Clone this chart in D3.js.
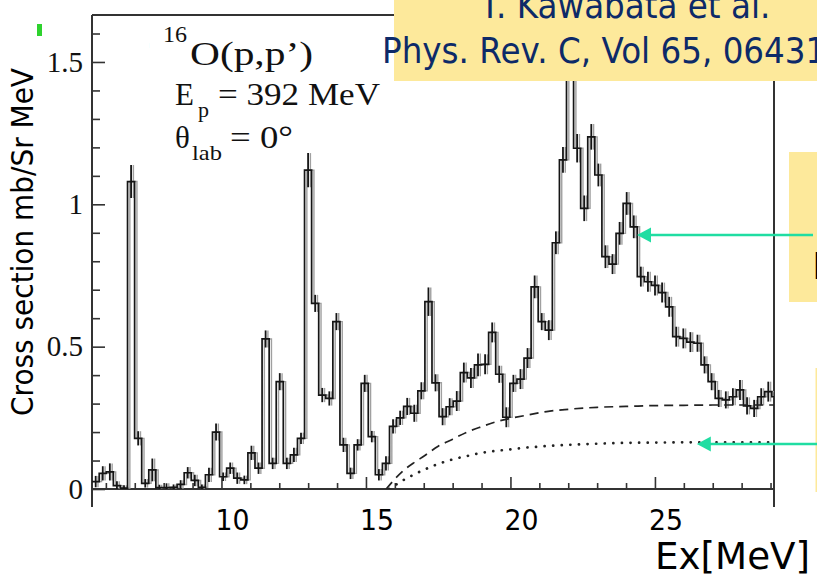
<!DOCTYPE html>
<html><head><meta charset="utf-8">
<script src="https://cdn.jsdelivr.net/npm/d3@7"></script>
<style>html,body{margin:0;padding:0;background:#fff;} svg{display:block;}</style>
</head><body>
<svg id="chart" width="817" height="584"></svg>
<script>
// 16O(p,p') excitation-energy spectrum, Ep = 392 MeV, theta_lab = 0 deg
const binStart = 5.525;   // MeV, lower edge of the first bin
const binWidth = 0.245;   // MeV
const crossSection = [
  0.026, 0.055, 0.060, 0.012, 0.003, 1.080, 0.178, 0.020, 0.067, 0.005,
  0.005, 0.006, 0.016, 0.057, 0.030, 0.006, 0.050, 0.200, 0.043, 0.073,
  0.038, 0.032, 0.127, 0.073, 0.527, 0.090, 0.377, 0.090, 0.120, 0.178,
  1.120, 0.652, 0.330, 0.318, 0.588, 0.155, 0.055, 0.155, 0.371, 0.184,
  0.050, 0.090, 0.220, 0.250, 0.290, 0.266, 0.345, 0.658, 0.373, 0.254,
  0.289, 0.309, 0.409, 0.390, 0.436, 0.438, 0.550, 0.403, 0.252, 0.371,
  0.386, 0.460, 0.710, 0.588, 0.558, 0.865, 1.156, 1.520, 1.197, 0.986,
  1.237, 1.103, 0.816, 0.790, 0.898, 1.003, 0.921, 0.746, 0.728, 0.715,
  0.690, 0.640, 0.535, 0.529, 0.516, 0.512, 0.436, 0.377, 0.318, 0.313,
  0.324, 0.348, 0.292, 0.283, 0.324, 0.342, 0.324
];
const crossSectionErr = [
  0.020, 0.025, 0.030, 0.015, 0.010, 0.058, 0.025, 0.015, 0.040, 0.010,
  0.015, 0.010, 0.015, 0.020, 0.020, 0.010, 0.025, 0.030, 0.015, 0.020,
  0.020, 0.015, 0.025, 0.020, 0.030, 0.020, 0.030, 0.020, 0.025, 0.020,
  0.060, 0.030, 0.025, 0.025, 0.030, 0.025, 0.020, 0.020, 0.030, 0.020,
  0.020, 0.025, 0.025, 0.025, 0.030, 0.030, 0.030, 0.050, 0.030, 0.030,
  0.030, 0.035, 0.035, 0.035, 0.040, 0.035, 0.035, 0.030, 0.035, 0.030,
  0.035, 0.035, 0.040, 0.030, 0.035, 0.040, 0.045, 0.060, 0.050, 0.045,
  0.045, 0.040, 0.040, 0.035, 0.040, 0.040, 0.040, 0.035, 0.035, 0.035,
  0.035, 0.035, 0.035, 0.035, 0.035, 0.030, 0.030, 0.030, 0.030, 0.030,
  0.030, 0.035, 0.030, 0.030, 0.030, 0.035, 0.030
];
// second (overlapping) measurement, drawn in grey, shifted in Ex
const greyShift = 0.08;   // MeV

// continuum estimates (Ex [MeV], cross section)
const dashedCurve = [
  [15.70, 0.000], [16.00, 0.035], [16.30, 0.065], [16.70, 0.095], [17.00, 0.115],
  [17.50, 0.150], [18.00, 0.175], [18.50, 0.200], [19.00, 0.219], [19.50, 0.236],
  [20.00, 0.248], [20.60, 0.260], [21.25, 0.272], [22.00, 0.280], [23.00, 0.287],
  [24.00, 0.290], [25.00, 0.293], [26.00, 0.294], [27.00, 0.295], [28.00, 0.295],
  [29.12, 0.295]
];
const dottedCurve = [
  [15.80, 0.000], [16.40, 0.037], [17.00, 0.067], [17.50, 0.088], [18.00, 0.104],
  [18.50, 0.116], [19.00, 0.127], [19.50, 0.134], [20.00, 0.139], [20.50, 0.145],
  [21.00, 0.149], [22.00, 0.155], [23.00, 0.159], [24.00, 0.162], [25.00, 0.163],
  [26.00, 0.164], [27.00, 0.164], [28.00, 0.164], [29.12, 0.164]
];

const yMajorTicks = [0, 0.5, 1, 1.5];
const yTickLabels = ["0", "0.5", "1", "1.5"];
const xMajorTicks = [10, 15, 20, 25];
const xTickLabels = ["10", "15", "20", "25"];

// arrow tips, in data coordinates (Ex, cross section)
const arrowTips = [[24.38, 0.892], [26.45, 0.158]];

const svg = d3.select("#chart");
const W = 817, H = 584;
const plot = {left: 92, right: 774, top: 15, bottom: 489, frameBottom: 507};

const x = d3.scaleLinear().domain([5.52, 29.12]).range([plot.left, plot.right]);
const y = d3.scaleLinear().domain([0, 1.665]).range([plot.bottom, plot.top]);

svg.append("rect").attr("width", W).attr("height", H).attr("fill", "#fff");

const defs = svg.append("defs");
defs.append("clipPath").attr("id", "plotClip")
  .append("rect").attr("x", plot.left).attr("y", plot.top)
  .attr("width", plot.right - plot.left).attr("height", plot.bottom - plot.top);

// ---- axes ----
const frameColor = "#333";
const xMinor = d3.range(6, 30).filter(v => v % 5 !== 0 && x(v) < plot.right);
const yMinor = d3.range(1, 17).map(i => i / 10).filter(v => Math.abs(v * 2 - Math.round(v * 2)) > 1e-6);

const xAxisMajor = d3.axisBottom(x).tickValues(xMajorTicks).tickSizeInner(-12).tickSizeOuter(0).tickFormat("");
const xAxisMinor = d3.axisBottom(x).tickValues(xMinor).tickSizeInner(-6).tickSizeOuter(0).tickFormat("");
const yAxisMajor = d3.axisLeft(y).tickValues(yMajorTicks).tickSizeInner(-13).tickSizeOuter(0)
  .tickPadding(9).tickFormat((d, i) => yTickLabels[i]);
const yAxisMinor = d3.axisLeft(y).tickValues(yMinor).tickSizeInner(-8).tickSizeOuter(0).tickFormat("");

function styleAxis(g) {
  g.select(".domain").remove();
  g.selectAll(".tick line").attr("stroke", frameColor).attr("stroke-width", 1.6);
}
svg.append("g").attr("transform", `translate(0,${plot.bottom})`).call(xAxisMajor).call(styleAxis);
svg.append("g").attr("transform", `translate(0,${plot.bottom})`).call(xAxisMinor).call(styleAxis);
svg.append("g").attr("transform", `translate(${plot.left},0)`).call(yAxisMinor).call(styleAxis);
const yG = svg.append("g").attr("transform", `translate(${plot.left},0)`).call(yAxisMajor).call(styleAxis);
yG.selectAll(".tick text")
  .attr("font-family", "'Liberation Serif', 'Times New Roman', serif")
  .attr("font-size", 29).attr("fill", "#111");

// frame
const frame = svg.append("g").attr("stroke", frameColor).attr("stroke-width", 2).attr("fill", "none");
frame.append("line").attr("x1", plot.left).attr("x2", plot.left).attr("y1", plot.top).attr("y2", plot.frameBottom);
frame.append("line").attr("x1", plot.right).attr("x2", plot.right).attr("y1", plot.top).attr("y2", plot.frameBottom);
frame.append("line").attr("x1", plot.left).attr("x2", plot.right).attr("y1", plot.top).attr("y2", plot.top);
frame.append("line").attr("x1", plot.left).attr("x2", plot.right).attr("y1", plot.bottom).attr("y2", plot.bottom);

// ---- data ----
const dataG = svg.append("g").attr("clip-path", "url(#plotClip)");

function histPoints(shift) {
  const pts = crossSection.map((v, i) => [binStart + i * binWidth + shift, v]);
  pts.push([binStart + crossSection.length * binWidth + shift, crossSection[crossSection.length - 1]]);
  return pts;
}
const step = d3.line().x(d => x(d[0])).y(d => y(d[1])).curve(d3.curveStepAfter);

function drawHist(shift, color, width, barWidth) {
  dataG.append("path").attr("d", step(histPoints(shift)))
    .attr("fill", "none").attr("stroke", color).attr("stroke-width", width);
  dataG.append("g").selectAll("line").data(crossSection).join("line")
    .attr("x1", (d, i) => x(binStart + (i + 0.5) * binWidth + shift))
    .attr("x2", (d, i) => x(binStart + (i + 0.5) * binWidth + shift))
    .attr("y1", (d, i) => y(d - crossSectionErr[i]))
    .attr("y2", (d, i) => y(d + crossSectionErr[i]))
    .attr("stroke", color).attr("stroke-width", barWidth);
}
drawHist(greyShift, "#a0a0a0", 1.4, 1.4);
drawHist(0, "#151515", 1.7, 1.8);

const curveLine = d3.line().x(d => x(d[0])).y(d => y(d[1])).curve(d3.curveMonotoneX);
dataG.append("path").attr("d", curveLine(dashedCurve))
  .attr("fill", "none").attr("stroke", "#222").attr("stroke-width", 1.7)
  .attr("stroke-dasharray", "9,6");
dataG.append("path").attr("d", curveLine(dottedCurve))
  .attr("fill", "none").attr("stroke", "#222").attr("stroke-width", 2.7)
  .attr("stroke-linecap", "round").attr("stroke-dasharray", "0.1,8.5");

// ---- reaction labels (figure font) ----
const serif = "'Liberation Serif', 'Times New Roman', serif";
const lab = svg.append("g").attr("font-family", serif).attr("fill", "#111");
lab.append("text").attr("x", 163).attr("y", 42).attr("font-size", 23)
  .attr("textLength", 24).attr("lengthAdjust", "spacingAndGlyphs").text("16");
lab.append("text").attr("x", 190).attr("y", 65).attr("font-size", 33)
  .attr("textLength", 123).attr("lengthAdjust", "spacingAndGlyphs").text("O(p,p’)");
lab.append("text").attr("x", 175).attr("y", 105).attr("font-size", 31).text("E");
lab.append("text").attr("x", 198).attr("y", 117).attr("font-size", 22).text("p");
lab.append("text").attr("x", 218).attr("y", 105).attr("font-size", 31)
  .attr("textLength", 162).attr("lengthAdjust", "spacingAndGlyphs").text("= 392 MeV");
lab.append("text").attr("x", 175).attr("y", 148).attr("font-size", 31).text("θ");
lab.append("text").attr("x", 192).attr("y", 160).attr("font-size", 22)
  .attr("textLength", 30).attr("lengthAdjust", "spacingAndGlyphs").text("lab");
lab.append("text").attr("x", 230).attr("y", 148).attr("font-size", 31)
  .attr("textLength", 63).attr("lengthAdjust", "spacingAndGlyphs").text("= 0°");
// panel tag, mostly hidden behind the slide edge
const tagClip = defs.append("clipPath").attr("id", "tagClip");
tagClip.append("rect").attr("x", 149).attr("y", 20).attr("width", 10).attr("height", 45);
lab.append("text").attr("x", 141).attr("y", 52).attr("font-size", 26)
  .attr("clip-path", "url(#tagClip)").text(")");

// ---- slide annotations ----
const sans = "'DejaVu Sans', Verdana, sans-serif";
svg.append("text")
  .attr("transform", `translate(33,${(68 + 416) / 2}) rotate(-90)`)
  .attr("text-anchor", "middle").attr("font-family", sans).attr("font-size", 30)
  .attr("textLength", 348).attr("lengthAdjust", "spacingAndGlyphs")
  .attr("fill", "#000").text("Cross section mb/Sr MeV");

svg.append("g").selectAll("text").data(xMajorTicks).join("text")
  .attr("x", d => x(d) + 11).attr("y", 530)
  .attr("text-anchor", "middle").attr("font-family", sans).attr("font-size", 29)
  .attr("textLength", 34).attr("lengthAdjust", "spacingAndGlyphs")
  .attr("fill", "#000").text((d, i) => xTickLabels[i]);

svg.append("text").attr("x", 655).attr("y", 569)
  .attr("font-family", sans).attr("font-size", 37)
  .attr("textLength", 155).attr("lengthAdjust", "spacingAndGlyphs")
  .attr("fill", "#000").text("Ex[MeV]");

// green marker
svg.append("rect").attr("x", 37).attr("y", 24).attr("width", 5).attr("height", 12).attr("fill", "#2ed22e");

// reference box
const yellow = "#fde99b";
const navy = "#0d2a68";
svg.append("rect").attr("x", 394).attr("y", 0).attr("width", W - 394).attr("height", 81).attr("fill", yellow);
svg.append("text").attr("transform", "translate(480,18) scale(0.905,1)")
  .attr("font-family", sans).attr("font-size", 36).attr("fill", navy).text("T. Kawabata et al.");
svg.append("text").attr("transform", "translate(382,63) scale(0.905,1)")
  .attr("font-family", sans).attr("font-size", 36).attr("fill", navy).text("Phys. Rev. C, Vol 65, 064316 (2002)");

// side boxes
svg.append("rect").attr("x", 789).attr("y", 152).attr("width", W - 789).attr("height", 150).attr("fill", yellow);
svg.append("text").attr("x", 812).attr("y", 279).attr("font-family", sans).attr("font-size", 38)
  .attr("fill", "#000").text("E1");
svg.append("rect").attr("x", 815.5).attr("y", 368).attr("width", W - 815.5).attr("height", 124).attr("fill", yellow);

// arrows
const teal = "#20dda2";
const arrowStarts = [813, W];
arrowTips.forEach((t, i) => {
  const tx = x(t[0]), ty = y(t[1]);
  svg.append("line").attr("x1", arrowStarts[i]).attr("x2", tx + 12).attr("y1", ty).attr("y2", ty)
    .attr("stroke", teal).attr("stroke-width", 2.4);
  svg.append("path").attr("d", `M${tx},${ty} L${tx + 14},${ty - 7.5} L${tx + 14},${ty + 7.5} Z`)
    .attr("fill", teal);
});
</script>
</body></html>
